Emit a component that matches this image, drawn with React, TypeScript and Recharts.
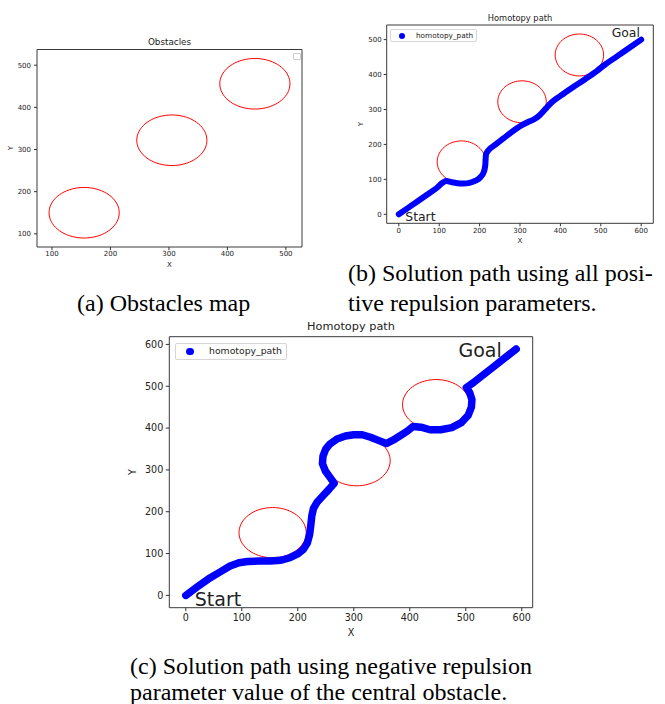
import { ComposedChart, Line, XAxis, YAxis, ReferenceArea, ReferenceDot, Legend } from "recharts";

// obstacles (same map in every panel)
const obstacleX = [155, 305, 447];
const obstacleY = [150, 322, 456];
const obstacleR = [60, 60, 60];

// (b) path, all positive repulsion
const pathBX = [0, 30, 60, 90, 118, 130, 145, 160, 175, 190, 202, 210, 214, 215, 216, 222, 240, 260, 280, 300, 320, 335, 348, 358, 368, 380, 400, 430, 460, 490, 510, 540, 570, 600];
const pathBY = [0, 24, 48, 72, 95, 92, 89, 88, 90, 96, 106, 120, 140, 160, 172, 183, 200, 218, 236, 252, 264, 272, 283, 295, 308, 322, 339, 363, 386, 410, 428, 452, 476, 500];

// (c) path, negative repulsion on the central obstacle
const pathCX = [0, 20, 40, 60, 79, 95, 110, 130, 150, 170, 186, 200, 210, 217, 221, 223, 225, 228, 234, 245, 256, 265, 257.5, 249, 244, 245, 250, 257.5, 270, 285, 300, 315, 330, 345, 358, 370, 382, 395, 406, 420, 436, 455, 475, 492, 504, 510, 511, 507, 501, 513, 530, 550, 570, 590];
const pathCY = [0, 20, 39, 55, 70, 78, 81, 82, 82, 84, 90, 99, 110, 125, 145, 165, 190, 208, 222, 238, 254, 268, 282, 298, 315, 333, 350, 362, 374, 381, 384, 384, 378, 370, 363, 371, 381, 392, 404, 402, 396, 396, 401, 413, 430, 450, 468, 485, 497, 508, 526, 547, 568, 589];

const ticksA = [100, 200, 300, 400, 500];
const ticksBX = [0, 100, 200, 300, 400, 500, 600];
const ticksBY = [0, 100, 200, 300, 400, 500];
const ticksC = [0, 100, 200, 300, 400, 500, 600];

const notesB = [
  { x: 16, y: -18, text: "Start" },
  { x: 527, y: 507, text: "Goal" },
];
const notesC = [
  { x: 16, y: -26, text: "Start" },
  { x: 487, y: 569, text: "Goal" },
];

const SANS = "'DejaVu Sans', sans-serif";
const SERIF = "'Liberation Serif', 'Times New Roman', serif";

type Pt = { x: number; y: number };

const zip = (xs: number[], ys: number[]): Pt[] => xs.map((x, i) => ({ x, y: ys[i] }));

// outline of an obstacle, drawn through the chart scales
const ring = (cx: number, cy: number, r: number): Pt[] => {
  const pts: Pt[] = [];
  for (let d = 0; d <= 360; d += 5) {
    const a = (d * Math.PI) / 180;
    pts.push({ x: cx + r * Math.cos(a), y: cy + r * Math.sin(a) });
  }
  return pts;
};

const obstacles = obstacleX.map((x, i) => ring(x, obstacleY[i], obstacleR[i]));

// matplotlib style 5% padding
const pad = (vals: number[]): [number, number] => {
  const lo = Math.min(...vals);
  const hi = Math.max(...vals);
  const m = (hi - lo) * 0.05;
  return [lo - m, hi + m];
};

const allObsX = obstacles.flat().map((p) => p.x);
const allObsY = obstacles.flat().map((p) => p.y);

function Txt({ x, y, size, children, family = SANS, rotate = 0, anchor = "middle" }: any) {
  const tx = anchor === "middle" ? "-50%" : "0";
  return (
    <div
      style={{
        position: "absolute",
        left: x,
        top: y,
        fontSize: size,
        fontFamily: family,
        lineHeight: 1,
        whiteSpace: "nowrap",
        color: family === SANS ? "#222" : "#000",
        transform: `translate(${tx}, -50%) rotate(${rotate}deg)`,
      }}
    >
      {children}
    </div>
  );
}

function Panel(p: any) {
  const [x0, x1] = p.xDomain;
  const [y0, y1] = p.yDomain;
  const tick = { fontSize: p.font, fill: "#222", fontFamily: SANS };
  return (
    <div style={{ position: "absolute", left: p.left, top: p.top }}>
      <ComposedChart width={p.width} height={p.height} margin={p.margin}>
        <XAxis
          type="number"
          dataKey="x"
          domain={p.xDomain}
          ticks={p.xTicks}
          allowDataOverflow
          interval={0}
          height={p.xAxisHeight}
          axisLine={false}
          tickSize={p.tickSize}
          tickMargin={p.tickMarginX}
          tickLine={{ stroke: "#333" }}
          tick={tick}
        />
        <YAxis
          type="number"
          dataKey="y"
          domain={p.yDomain}
          ticks={p.yTicks}
          allowDataOverflow
          interval={0}
          width={p.yAxisWidth}
          axisLine={false}
          tickSize={p.tickSize}
          tickMargin={p.tickMarginY}
          tickLine={{ stroke: "#333" }}
          tick={tick}
        />
        <ReferenceArea x1={x0} x2={x1} y1={y0} y2={y1} fill="none" fillOpacity={0} stroke="#3a3a3a" strokeWidth={1} strokeOpacity={1} />
        {obstacles.map((o, i) => (
          <Line key={i} data={o} dataKey="y" type="linear" stroke="#ff0000" strokeWidth={1} dot={false} isAnimationActive={false} />
        ))}
        {p.path && (
          <Line
            data={p.path}
            dataKey="y"
            type={p.curve}
            stroke="#0000ff"
            strokeWidth={p.pathWidth}
            strokeLinecap="round"
            strokeLinejoin="round"
            dot={false}
            isAnimationActive={false}
          />
        )}
        {(p.notes || []).map((n: any) => (
          <ReferenceDot
            key={n.text}
            x={n.x}
            y={n.y}
            r={0}
            fill="none"
            stroke="none"
            label={(lp: any) => (
              <text x={lp.viewBox.x} y={lp.viewBox.y} fontSize={p.noteFont} fontFamily={SANS} fill="#222">
                {n.text}
              </text>
            )}
          />
        ))}
        <Legend
          layout="horizontal"
          verticalAlign="middle"
          align="center"
          wrapperStyle={{ left: p.legend.left, top: p.legend.top, width: "auto" }}
          content={() =>
            p.legend.empty ? (
              <div style={{ width: 6, height: 5, border: "1px solid #ccc", borderRadius: 1 }} />
            ) : (
              <div
                style={{
                  position: "relative",
                  width: p.legend.w,
                  height: p.legend.h,
                  border: "1px solid #d6d6d6",
                  borderRadius: 2,
                  boxSizing: "border-box",
                  background: "#fff",
                }}
              >
                <div
                  style={{
                    position: "absolute",
                    left: p.legend.dotX - p.legend.dotR,
                    top: p.legend.h / 2 - p.legend.dotR - 1,
                    width: p.legend.dotR * 2,
                    height: p.legend.dotR * 2,
                    borderRadius: "50%",
                    background: "#0000ff",
                  }}
                />
                <div
                  style={{
                    position: "absolute",
                    left: p.legend.textX,
                    top: "50%",
                    transform: "translateY(-55%)",
                    fontSize: p.legend.font,
                    fontFamily: SANS,
                    color: "#222",
                    lineHeight: 1,
                    whiteSpace: "nowrap",
                  }}
                >
                  homotopy_path
                </div>
              </div>
            )
          }
        />
      </ComposedChart>
    </div>
  );
}

export default function App() {
  const pathB = zip(pathBX, pathBY);
  const pathC = zip(pathCX, pathCY);
  return (
    <div style={{ position: "absolute", left: 0, top: 0, width: 665, height: 704, background: "#fff", overflow: "hidden" }}>
      <Panel
        left={0}
        top={0}
        width={310}
        height={275}
        margin={{ top: 49.5, right: 8, bottom: 8, left: 0 }}
        yAxisWidth={37}
        xAxisHeight={20}
        xDomain={pad(allObsX)}
        yDomain={pad(allObsY)}
        xTicks={ticksA}
        yTicks={ticksA}
        font={7}
        tickSize={3}
        tickMarginX={1.5}
        tickMarginY={3}
        legend={{ empty: true, left: 292.5, top: 53 }}
      />
      <Txt x={169.5} y={42} size={8.8}>Obstacles</Txt>
      <Txt x={169.5} y={265} size={7}>X</Txt>
      <Txt x={11} y={148} size={7} rotate={-90}>Y</Txt>

      <Panel
        left={350}
        top={0}
        width={315}
        height={250}
        margin={{ top: 25, right: 11.7, bottom: 0, left: 0 }}
        yAxisWidth={36.7}
        xAxisHeight={26.7}
        xDomain={pad([...pathBX, ...allObsX])}
        yDomain={pad([...pathBY, ...allObsY])}
        xTicks={ticksBX}
        yTicks={ticksBY}
        font={7}
        tickSize={3}
        tickMarginX={2}
        tickMarginY={2}
        path={pathB}
        curve="monotoneX"
        pathWidth={6}
        notes={notesB}
        noteFont={12.4}
        legend={{ left: 40, top: 29, w: 87, h: 13, dotX: 11, dotR: 3, textX: 25, font: 7.3 }}
      />
      <Txt x={520} y={17.7} size={8.3}>Homotopy path</Txt>
      <Txt x={520} y={241} size={7}>X</Txt>
      <Txt x={360.7} y={124} size={7} rotate={-90}>Y</Txt>

      <Panel
        left={120}
        top={320}
        width={430}
        height={330}
        margin={{ top: 16.7, right: 17.3, bottom: 0, left: 0 }}
        yAxisWidth={49.3}
        xAxisHeight={42.3}
        xDomain={pad([...pathCX, ...allObsX])}
        yDomain={pad([...pathCY, ...allObsY])}
        xTicks={ticksC}
        yTicks={ticksC}
        font={9.6}
        tickSize={3.5}
        tickMarginX={3}
        tickMarginY={2.5}
        path={pathC}
        curve="linear"
        pathWidth={7.5}
        notes={notesC}
        noteFont={19}
        legend={{ left: 55, top: 22.7, w: 112, h: 17.3, dotX: 14, dotR: 3.7, textX: 33, font: 9.3 }}
      />
      <Txt x={351} y={326.7} size={11.3}>Homotopy path</Txt>
      <Txt x={351} y={632.7} size={9.6}>X</Txt>
      <Txt x={133} y={472} size={9.6} rotate={-90}>Y</Txt>

      <Txt x={77} y={303} size={24} family={SERIF} anchor="start">(a) Obstacles map</Txt>
      <Txt x={348} y={273} size={24} family={SERIF} anchor="start">(b) Solution path using all posi-</Txt>
      <Txt x={348} y={303} size={24} family={SERIF} anchor="start">tive repulsion parameters.</Txt>
      <Txt x={130} y={666} size={24} family={SERIF} anchor="start">(c) Solution path using negative repulsion</Txt>
      <Txt x={130} y={692} size={24} family={SERIF} anchor="start">parameter value of the central obstacle.</Txt>
    </div>
  );
}
